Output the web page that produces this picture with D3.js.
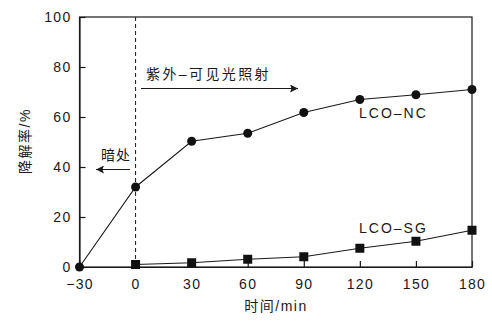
<!DOCTYPE html>
<html><head><meta charset="utf-8">
<script src="https://cdn.jsdelivr.net/npm/d3@7"></script>
<style>
html,body{margin:0;padding:0;background:#fff;}
text{font-family:"Liberation Sans","Noto Sans CJK SC",sans-serif;fill:#1a1a1a;}
</style></head>
<body><svg id="c" width="492" height="324"></svg>
<script>
const times = [-30, 0, 30, 60, 90, 120, 150, 180];
const ncTimes = [-30, 0, 30, 60, 90, 120, 150, 180];
const ncValues = [0, 32, 50.3, 53.5, 61.8, 67, 68.9, 71];
const sgTimes = [0, 30, 60, 90, 120, 150, 180];
const sgValues = [1.0, 1.7, 3.1, 4.1, 7.5, 10.3, 14.7];
const yTicks = [0, 20, 40, 60, 80, 100];
const xLabel = "时间/min";
const yLabel = "降解率/%";
const ncName = "LCO–NC";
const sgName = "LCO–SG";
const lightText = "紫外–可见光照射";
const darkText = "暗处";

const svg = d3.select("#c");
const x = d3.scaleLinear().domain([-30, 180]).range([79.5, 472]);
const y = d3.scaleLinear().domain([0, 100]).range([267, 17]);

const defs = svg.append("defs");
defs.append("marker").attr("id","ah").attr("viewBox","0 0 10 10").attr("refX",10).attr("refY",5)
  .attr("markerWidth",14).attr("markerHeight",8).attr("markerUnits","userSpaceOnUse").attr("orient","auto")
  .append("path").attr("d","M0,0 L10,5 L0,10 L2,5 Z").attr("fill","#1a1a1a");

// frame
svg.append("rect").attr("x",x(-30)).attr("y",y(100)).attr("width",x(180)-x(-30)).attr("height",y(0)-y(100))
  .attr("fill","none").attr("stroke","#1a1a1a").attr("stroke-width",1.2);

// axes with inward ticks
const xAxis = svg.append("g").attr("transform",`translate(0,${y(0)})`)
  .call(d3.axisBottom(x).tickValues(times).tickSizeInner(-6).tickSizeOuter(0).tickPadding(9).tickFormat(d => d < 0 ? "−" + Math.abs(d) : d));
const yAxis = svg.append("g").attr("transform",`translate(${x(-30)},0)`)
  .call(d3.axisLeft(y).tickValues(yTicks).tickSizeInner(-6).tickSizeOuter(0).tickPadding(9));
[xAxis, yAxis].forEach(g => {
  g.select(".domain").attr("stroke","#1a1a1a").attr("stroke-width",1.2);
  g.selectAll(".tick line").attr("stroke","#1a1a1a").attr("stroke-width",1.2);
  g.selectAll("text").attr("font-size",14).attr("letter-spacing","1.3px").attr("fill","#1a1a1a")
   .style("font-family",'"Liberation Sans",sans-serif');
});
xAxis.selectAll("text").attr("dy","0.9em");
yAxis.selectAll("text").attr("dx","1px");

// dashed vertical line at 0
svg.append("line").attr("x1",x(0)).attr("x2",x(0)).attr("y1",y(100)).attr("y2",y(0))
  .attr("stroke","#1a1a1a").attr("stroke-width",1).attr("stroke-dasharray","4,3");

const line = d3.line().x(d => x(d[0])).y(d => y(d[1]));
const nc = ncTimes.map((t,i) => [t, ncValues[i]]);
const sg = sgTimes.map((t,i) => [t, sgValues[i]]);
svg.append("path").datum(nc).attr("d",line).attr("fill","none").attr("stroke","#1a1a1a").attr("stroke-width",1.1);
svg.append("path").datum(sg).attr("d",line).attr("fill","none").attr("stroke","#1a1a1a").attr("stroke-width",1.1);
svg.selectAll("circle.nc").data(nc).enter().append("circle")
  .attr("cx",d=>x(d[0])).attr("cy",d=>y(d[1])).attr("r",4.5).attr("fill","#111");
svg.selectAll("rect.sg").data(sg).enter().append("rect")
  .attr("x",d=>x(d[0])-4.5).attr("y",d=>y(d[1])-4.5).attr("width",9).attr("height",9).attr("fill","#111");

// annotations
svg.append("text").attr("x",146).attr("y",79).attr("font-size",14).attr("letter-spacing","2.4px").text(lightText);
svg.append("line").attr("x1",141).attr("x2",298).attr("y1",88.5).attr("y2",88.5)
  .attr("stroke","#1a1a1a").attr("stroke-width",1.2).attr("marker-end","url(#ah)");
svg.append("text").attr("x",101).attr("y",160).attr("font-size",14).attr("letter-spacing","1px").text(darkText);
svg.append("line").attr("x1",130).attr("x2",96).attr("y1",169.5).attr("y2",169.5)
  .attr("stroke","#1a1a1a").attr("stroke-width",1.2).attr("marker-end","url(#ah)");
svg.append("text").attr("x",359).attr("y",118).attr("font-size",14).attr("letter-spacing","2px").text(ncName);
svg.append("text").attr("x",359).attr("y",233).attr("font-size",14).attr("letter-spacing","2px").text(sgName);

// axis titles
svg.append("text").attr("x",276).attr("y",311).attr("text-anchor","middle").attr("font-size",14)
  .attr("letter-spacing","1.5px").text(xLabel);
svg.append("text").attr("transform","translate(30,141) rotate(-90)").attr("text-anchor","middle")
  .attr("font-size",14).attr("letter-spacing","1.5px").text(yLabel);
</script></body></html>
